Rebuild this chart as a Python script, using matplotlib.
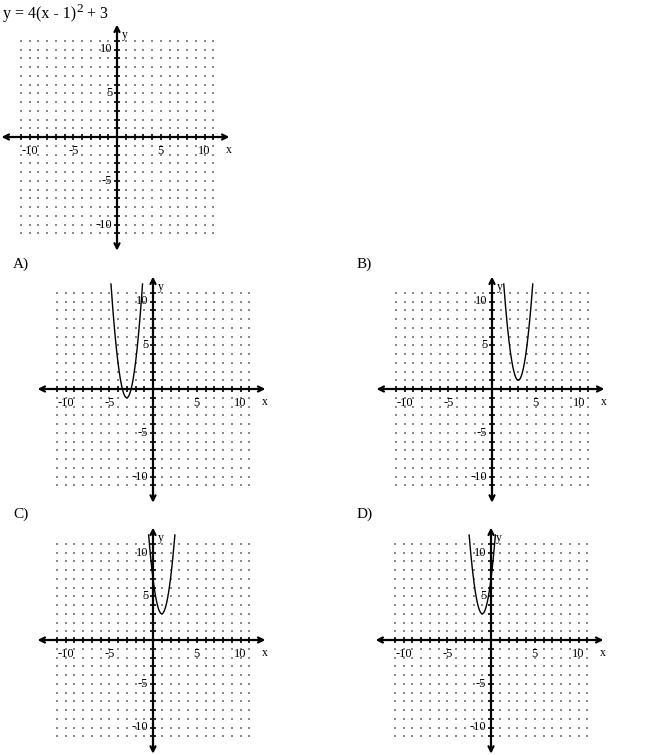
import numpy as np
import matplotlib
matplotlib.use("Agg")
import matplotlib.pyplot as plt

# ---- data ----
question_parts = ["y = 4(x - 1)", "2", " + 3"]
panel_labels = ["", "A)", "B)", "C)", "D)"]
vertex_x = [None, -3, 3, 1, -1]
vertex_y = [None, -1, 1, 3, 3]
coef_a = [None, 4, 4, 4, 4]
tick_values = [-10, -5, 5, 10]
tick_labels = ["-10", "-5", "5", "10"]
grid_min, grid_max = -11, 11
y_top = 12

# ---- layout (pixels) ----
W, H = 650, 755
U = 8.75  # pixels per unit
origins = [(117, 137), (153, 389), (492, 389), (153, 640), (491, 640)]
label_pos = [None, (13, 264), (357, 264), (13, 514), (357, 514)]
R = 13.6

plt.rcParams['font.family'] = ['Liberation Serif', 'DejaVu Serif']

fig = plt.figure(figsize=(W / 100, H / 100), dpi=100)
fig.patch.set_facecolor('white')
renderer = fig.canvas.get_renderer()

# title built from pieces so the superscript keeps a large size
t1 = fig.text(3 / W, 1 - 14 / H, question_parts[0], fontsize=11.5, ha='left', va='center')
bb = t1.get_window_extent(renderer)
t2 = fig.text(bb.x1 / W, 1 - 9.5 / H, question_parts[1], fontsize=9.5, ha='left', va='center')
bb2 = t2.get_window_extent(renderer)
fig.text(bb2.x1 / W, 1 - 14 / H, question_parts[2], fontsize=11.5, ha='left', va='center')

gx, gy = np.meshgrid(np.arange(grid_min, grid_max + 1), np.arange(grid_min, grid_max + 1))

for i, (ox, oy) in enumerate(origins):
    left = (ox - R * U) / W
    bottom = (H - oy - R * U) / H
    ax = fig.add_axes([left, bottom, 2 * R * U / W, 2 * R * U / H])
    ax.set_xlim(-R, R)
    ax.set_ylim(-R, R)
    ax.axis('off')

    # dot grid
    ax.scatter(gx.ravel(), gy.ravel(), s=0.8, color='#8a8a8a', marker='s', linewidths=0, zorder=1)

    # axes with arrows
    ax.annotate('', xy=(12.85, 0), xytext=(-13.2, 0),
                arrowprops=dict(arrowstyle='<->', lw=1.6, color='black',
                                mutation_scale=9, shrinkA=0, shrinkB=0), zorder=3)
    ax.annotate('', xy=(0, 12.85), xytext=(0, -13.0),
                arrowprops=dict(arrowstyle='<->', lw=1.6, color='black',
                                mutation_scale=9, shrinkA=0, shrinkB=0), zorder=3)

    # tick marks
    for t in range(grid_min, grid_max + 1):
        if t == 0:
            continue
        ax.plot([t, t], [-0.36, 0.36], color='black', lw=1.2, zorder=3, solid_capstyle='butt')
        ax.plot([-0.36, 0.36], [t, t], color='black', lw=1.2, zorder=3, solid_capstyle='butt')

    # tick labels
    for v, lab in zip(tick_values, tick_labels):
        ax.text(v, -1.55, lab, fontsize=9, ha='center', va='center', zorder=4)
        ax.text(-0.55, v, lab, fontsize=9, ha='right', va='center', zorder=4)

    ax.text(0.55, 11.7, 'y', fontsize=8.5, ha='left', va='center')
    ax.text(12.75, -1.5, 'x', fontsize=8.5, ha='center', va='center')

    if i > 0:
        a, h, k = coef_a[i], vertex_x[i], vertex_y[i]
        d = np.sqrt((y_top - k) / a)
        xs = np.linspace(h - d, h + d, 400)
        ys = a * (xs - h) ** 2 + k
        ax.plot(xs, ys, color='black', lw=1.0, zorder=5)
        lx, ly = label_pos[i]
        fig.text(lx / W, 1 - ly / H, panel_labels[i], fontsize=11, ha='left', va='center')

fig.savefig('out.png', dpi=100, facecolor='white')
